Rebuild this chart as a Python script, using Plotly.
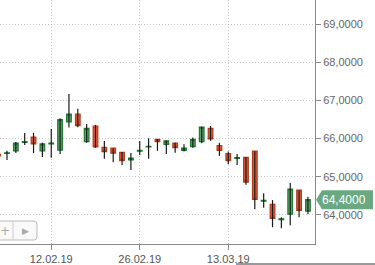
import plotly.graph_objects as go

dates = ["04.02.19", "05.02.19", "06.02.19", "07.02.19", "08.02.19", "11.02.19", "12.02.19",
         "13.02.19", "14.02.19", "15.02.19", "18.02.19", "19.02.19", "20.02.19", "21.02.19",
         "22.02.19", "25.02.19", "26.02.19", "27.02.19", "28.02.19", "01.03.19", "04.03.19",
         "05.03.19", "06.03.19", "07.03.19", "11.03.19", "12.03.19", "13.03.19", "14.03.19",
         "15.03.19", "18.03.19", "19.03.19", "20.03.19", "21.03.19", "22.03.19", "25.03.19",
         "26.03.19"]
open_ = [65.59, 65.61, 65.68, 65.90, 66.04, 65.68, 65.86, 65.70, 66.44, 66.64, 65.92, 66.33,
         65.77, 65.75, 65.64, 65.44, 65.67, 65.78, 65.98, 65.85, 65.88, 65.69, 65.79, 65.92,
         66.27, 65.82, 65.61, 65.48, 65.51, 65.67, 64.36, 64.28, 63.88, 64.02, 64.65, 64.10]
close = [65.55, 65.63, 65.88, 65.92, 65.86, 65.86, 65.88, 66.50, 66.64, 66.34, 66.27, 65.78,
         65.66, 65.62, 65.42, 65.49, 65.69, 65.80, 65.92, 65.94, 65.76, 65.75, 65.98, 66.30,
         65.99, 65.69, 65.42, 65.50, 64.86, 64.41, 64.38, 63.91, 63.90, 64.68, 64.12, 64.40]
high = [65.62, 65.68, 65.91, 66.15, 66.15, 65.89, 66.25, 66.53, 67.17, 66.78, 66.38, 66.36,
        65.94, 65.75, 65.65, 65.62, 65.94, 66.01, 65.99, 65.95, 65.89, 65.85, 66.03, 66.31,
        66.33, 65.89, 65.66, 65.60, 65.52, 65.67, 64.57, 64.39, 63.94, 64.84, 64.65, 64.48]
low = [65.52, 65.44, 65.62, 65.83, 65.62, 65.52, 65.50, 65.60, 66.29, 66.30, 65.89, 65.76,
       65.47, 65.38, 65.31, 65.18, 65.57, 65.47, 65.68, 65.60, 65.63, 65.66, 65.76, 65.88,
       65.94, 65.55, 65.33, 65.31, 64.79, 64.15, 64.19, 63.68, 63.65, 63.73, 63.94, 64.02]
x_tick_vals = ["12.02.19", "26.02.19", "13.03.19"]
y_ticks = [64, 65, 66, 67, 68, 69]

fig = go.Figure()

# wicks (black)
wx, wy = [], []
for d, h, l in zip(dates, high, low):
    wx += [d, d, None]
    wy += [l, h, None]
fig.add_trace(go.Scatter(x=wx, y=wy, mode="lines", line=dict(color="#1a1a1a", width=1.2),
                         hoverinfo="skip", showlegend=False))

body_hi = [max(o, c) for o, c in zip(open_, close)]
body_lo = [min(o, c) for o, c in zip(open_, close)]
fig.add_trace(go.Candlestick(
    x=dates, open=open_, close=close, high=body_hi, low=body_lo,
    increasing=dict(line=dict(color="#1e7a2e", width=1.2), fillcolor="#5f9e6e"),
    decreasing=dict(line=dict(color="#b23c1e", width=1.2), fillcolor="#dc5a3c"),
    whiskerwidth=0, showlegend=False))

label = f"{close[-1]:.4f}".replace(".", ",")

fig.update_layout(
    width=375, height=265,
    margin=dict(l=0, r=60, t=0, b=21),
    paper_bgcolor="#ffffff", plot_bgcolor="#ffffff",
    separators=", ",
    boxgap=0.25,
    showlegend=False,
    font=dict(family="Liberation Sans, Arial, sans-serif", size=11, color="#666666"),
    xaxis=dict(type="category", range=[0.21, 35.8], rangeslider=dict(visible=False),
               tickvals=x_tick_vals, ticktext=x_tick_vals,
               showgrid=True, gridcolor="#c8c8c8", griddash="1px,2px", gridwidth=1,
               showline=True, linecolor="#888888", linewidth=1,
               ticks="outside", ticklen=5, tickcolor="#888888",
               tickfont=dict(size=11, color="#555555"), fixedrange=True),
    yaxis=dict(side="right", range=[63.24, 69.63], tickvals=y_ticks, tickformat=".4f",
               showgrid=True, gridcolor="#c8c8c8", griddash="1px,2px", gridwidth=1,
               zeroline=False, showline=True, linecolor="#888888", linewidth=1,
               ticks="outside", ticklen=5, tickcolor="#888888",
               tickfont=dict(size=11, color="#666666"), fixedrange=True),
    shapes=[
        dict(type="path", xref="paper", yref="y", xsizemode="pixel", ysizemode="pixel",
             xanchor=1, yanchor=close[-1],
             path="M 1 0 L 7 9.5 L 58 9.5 L 58 -9.5 L 7 -9.5 Z",
             fillcolor="#6aa882", line=dict(width=0), layer="above"),
        dict(type="path", xref="paper", yref="paper", xsizemode="pixel", ysizemode="pixel",
             xanchor=0, yanchor=0,
             path="M -6 4 L 34 4 Q 37 4 37 7 L 37 20 Q 37 23 34 23 L -6 23 Z",
             fillcolor="rgba(248,248,248,0.9)", line=dict(color="#bbbbbb", width=1),
             layer="above"),
        dict(type="line", xref="paper", yref="paper", xsizemode="pixel", ysizemode="pixel",
             xanchor=0, yanchor=0, x0=13, x1=13, y0=4, y1=23,
             line=dict(color="#cccccc", width=1), layer="above"),
        dict(type="line", xref="paper", yref="paper", x0=236 / 315, x1=375 / 315,
             y0=-20 / 244, y1=-20 / 244, line=dict(color="#777777", width=1.5)),
    ],
    annotations=[
        dict(x=1, xref="paper", y=close[-1], yref="y", xanchor="left", xshift=5,
             text=label, showarrow=False,
             font=dict(color="#ffffff", size=12, family="Liberation Sans, Arial, sans-serif")),
        dict(x=0, xref="paper", y=13.5 / 244, yref="paper", text="+",
             xanchor="left", yanchor="middle", borderpad=0, xshift=-1,
             showarrow=False, font=dict(color="#aaaaaa", size=12, family="DejaVu Sans")),
        dict(x=25 / 315, xref="paper", y=13.5 / 244, yref="paper", text="▶",
             xanchor="center", yanchor="middle",
             showarrow=False, font=dict(color="#aaaaaa", size=9, family="DejaVu Sans")),
    ],
)

fig.write_html("out.html")
